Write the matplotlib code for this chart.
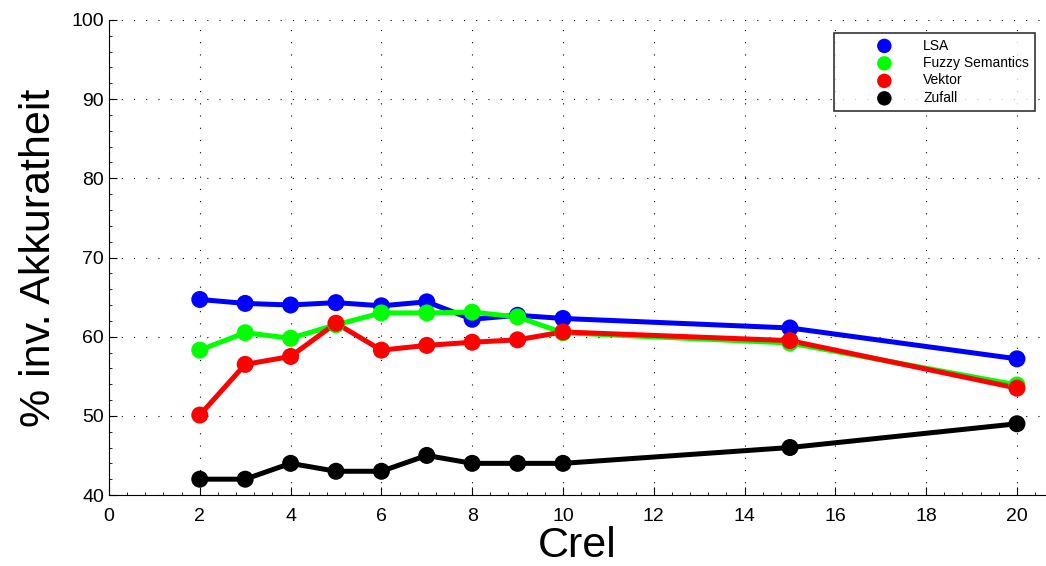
"""Inverse accuracy vs. Crel for the four methods."""

import matplotlib.pyplot as plt
from matplotlib.ticker import AutoMinorLocator, MultipleLocator

plt.rcParams["font.family"] = ["Liberation Sans", "DejaVu Sans"]

crel = [2, 3, 4, 5, 6, 7, 8, 9, 10, 15, 20]
lsa = [64.7, 64.2, 64.0, 64.3, 63.9, 64.4, 62.2, 62.7, 62.3, 61.1, 57.2]
fuzzy = [58.3, 60.5, 59.8, 61.5, 63.0, 63.0, 63.1, 62.5, 60.5, 59.2, 53.9]
vektor = [50.1, 56.5, 57.5, 61.7, 58.3, 58.9, 59.3, 59.6, 60.6, 59.5, 53.5]
zufall = [42.0, 42.0, 44.0, 43.0, 43.0, 45.0, 44.0, 44.0, 44.0, 46.0, 49.0]

series = [
    ("LSA", lsa, "#0000ff"),
    ("Fuzzy Semantics", fuzzy, "#00ff00"),
    ("Vektor", vektor, "#ff0000"),
    ("Zufall", zufall, "#000000"),
]

fig = plt.figure(figsize=(10.46, 5.66), dpi=100)
ax = fig.add_axes([0.1042, 0.1254, 0.8958, 0.8393])

handles = []
for name, values, color in series:
    ax.plot(crel, values, color=color, linewidth=3.6, solid_capstyle="round",
            solid_joinstyle="round")
    h = ax.scatter(crel, values, s=150, color=color, zorder=3, label=name,
                   edgecolors="none")
    handles.append(h)

ax.set_xlim(0, 20.64)
ax.set_ylim(40, 100)
ax.set_xticks(range(0, 21, 2))
ax.yaxis.set_major_locator(MultipleLocator(10))
ax.xaxis.set_minor_locator(AutoMinorLocator(5))
ax.yaxis.set_minor_locator(AutoMinorLocator(5))
ax.tick_params(which="major", direction="in", length=6, width=0.8, labelsize=14)
ax.tick_params(which="minor", direction="in", length=2, width=0.6)
ax.tick_params(axis="x", pad=9)

ax.grid(True, which="major", color="black", linestyle=(0, (1, 10)), linewidth=0.8)
ax.spines["top"].set_visible(False)
ax.spines["right"].set_visible(False)

ax.set_xlabel("Crel", fontsize=31, labelpad=1)
ax.set_ylabel("% inv. Akkuratheit", fontsize=31, labelpad=9)

leg = fig.legend(handles=handles, loc="upper left",
                 bbox_to_anchor=(834 / 1046, 1 - 33 / 566), fontsize=10,
                 frameon=True, fancybox=False, edgecolor="black",
                 borderpad=0.4, labelspacing=0.25, handlelength=6.45,
                 handletextpad=-0.42, borderaxespad=0, scatterpoints=1,
                 markerscale=0.85)
leg.get_frame().set_linewidth(1.2)
leg.set_zorder(5)

fig.savefig("out.png", dpi=100)
